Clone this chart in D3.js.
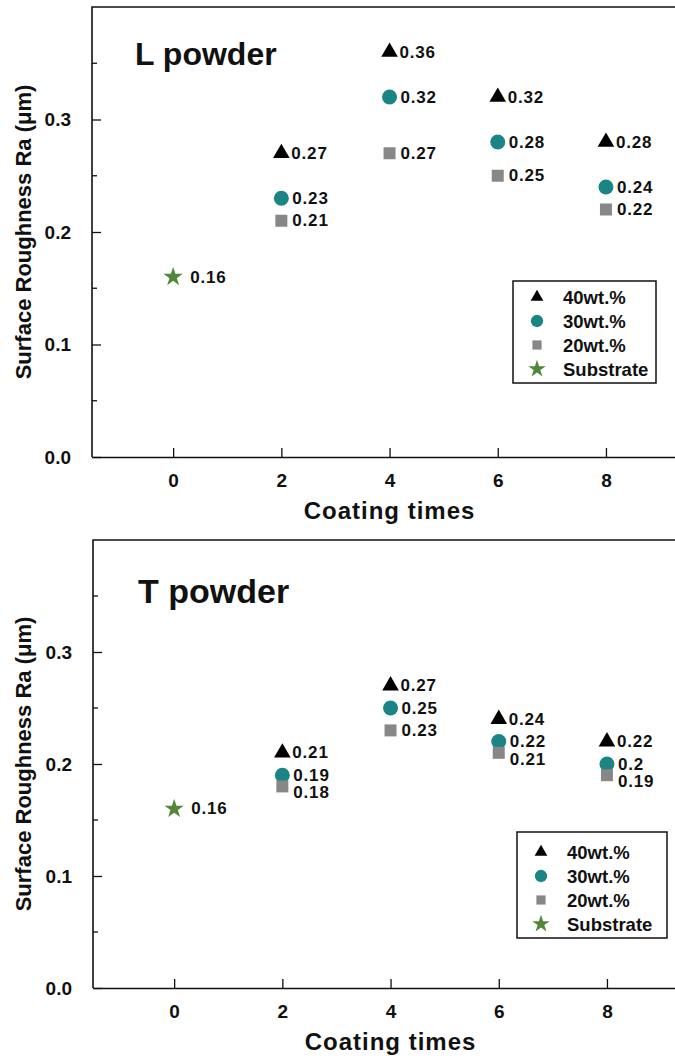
<!DOCTYPE html>
<html>
<head>
<meta charset="utf-8">
<script src="https://cdn.jsdelivr.net/npm/d3@7"></script>
<style>
  body { margin: 0; background: #fff; }
  svg { display: block; font-family: "Liberation Sans", Arial, sans-serif; font-weight: bold; }
</style>
</head>
<body>
<svg id="chart" width="675" height="1061"></svg>
<script>
// data
const coatingTimes = [2, 4, 6, 8];
const substrateTimes = [0];
const xTicks = [0, 2, 4, 6, 8];
const yTicks = [0, 0.1, 0.2, 0.3];
const yMinorTicks = [0.05, 0.15, 0.25, 0.35];

const L_40 = [0.27, 0.36, 0.32, 0.28];
const L_30 = [0.23, 0.32, 0.28, 0.24];
const L_20 = [0.21, 0.27, 0.25, 0.22];
const L_sub = [0.16];

const T_40 = [0.21, 0.27, 0.24, 0.22];
const T_30 = [0.19, 0.25, 0.22, 0.20];
const T_20 = [0.18, 0.23, 0.21, 0.19];
const T_sub = [0.16];

const legendNames = ["40wt.%", "30wt.%", "20wt.%", "Substrate"];

// marker styles
const styles = [
  {type: d3.symbolTriangle, size: 120, legSize: 70, color: "#000", dx: 10},
  {type: d3.symbolCircle, size: 177, legSize: 120, color: "#1b8585", dx: 11},
  {type: d3.symbolSquare, size: 144, legSize: 85, color: "#878787", dx: 11},
  {type: d3.symbolStar, size: 115, legSize: 95, color: "#52873a", dx: 17}
];

const panels = [
  {title: "L powder", titleX: 135, titleY: 65, titleSize: 32,
   left: 92, top: 7, bottom: 457,
   series: [L_40, L_30, L_20, L_sub],
   legend: {x: 513, y: 281, w: 143, h: 102, first: 16}},
  {title: "T powder", titleX: 138, titleY: 603, titleSize: 34,
   left: 93, top: 540, bottom: 988,
   series: [T_40, T_30, T_20, T_sub],
   legend: {x: 517, y: 832, w: 150, h: 106, first: 20}}
];

const svg = d3.select("#chart");

panels.forEach(p => {
  const x = d3.scaleLinear().domain([-1.5, 9.5]).range([p.left, p.left + 11 * 54.1]);
  const y = d3.scaleLinear().domain([0, 0.4]).range([p.bottom, p.top]);
  const g = svg.append("g");

  // frame: top and left border
  g.append("path")
    .attr("d", `M${x.range()[1]},${p.top}H${p.left}V${p.bottom}`)
    .attr("fill", "none").attr("stroke", "#111").attr("stroke-width", 1.6);

  // x axis
  const xAxis = d3.axisBottom(x).tickValues(xTicks).tickSizeInner(-9).tickSizeOuter(0).tickPadding(17);
  const gx = g.append("g").attr("transform", `translate(0,${p.bottom})`).call(xAxis);
  gx.select(".domain").attr("stroke", "#111").attr("stroke-width", 1.6);
  gx.selectAll(".tick line").attr("stroke", "#111").attr("stroke-width", 1.3);
  gx.selectAll(".tick text").attr("font-size", 19).attr("font-family", null).attr("fill", "#111");

  // y axis
  const yAxis = d3.axisLeft(y).tickValues(yTicks).tickFormat(d3.format(".1f"))
    .tickSizeInner(-9).tickSizeOuter(0).tickPadding(21);
  const gy = g.append("g").attr("transform", `translate(${p.left},0)`).call(yAxis);
  gy.select(".domain").remove();
  gy.selectAll(".tick line").attr("stroke", "#111").attr("stroke-width", 1.3);
  gy.selectAll(".tick text").attr("font-size", 19).attr("font-family", null).attr("fill", "#111");

  g.selectAll(".minor").data(yMinorTicks).enter().append("line")
    .attr("x1", p.left).attr("x2", p.left + 5)
    .attr("y1", d => y(d)).attr("y2", d => y(d))
    .attr("stroke", "#111").attr("stroke-width", 1.3);

  // axis titles
  g.append("text").text("Coating times")
    .attr("x", x(4)).attr("y", p.bottom + 62)
    .attr("text-anchor", "middle").attr("font-size", 24).attr("letter-spacing", 1)
    .attr("fill", "#111");
  g.append("text").text("Surface Roughness Ra (μm)")
    .attr("transform", `translate(23,${(p.top + p.bottom) / 2}) rotate(-90)`)
    .attr("text-anchor", "middle").attr("dominant-baseline", "central")
    .attr("font-size", 22).attr("fill", "#111");

  // panel title
  g.append("text").text(p.title)
    .attr("x", p.titleX).attr("y", p.titleY)
    .attr("font-size", p.titleSize).attr("fill", "#111");

  // points
  const labels = [];
  p.series.forEach((vals, i) => {
    const st = styles[i];
    const xs = i === 3 ? substrateTimes : coatingTimes;
    const pts = vals.map((v, j) => ({x: xs[j], v: v}));
    g.selectAll(null).data(pts).enter().append("path")
      .attr("d", d3.symbol().type(st.type).size(st.size))
      .attr("transform", d => `translate(${x(d.x)},${y(d.v)})`)
      .attr("fill", st.color);
    pts.forEach(d => labels.push({x: d.x, v: d.v, lx: x(d.x) + st.dx, ly: y(d.v)}));
  });

  // push overlapping value labels apart within each column
  d3.groups(labels, d => d.x).forEach(([k, arr]) => {
    arr.sort((a, b) => a.ly - b.ly);
    for (let i = 1; i < arr.length; i++) {
      if (arr[i].ly - arr[i - 1].ly < 17.5) arr[i].ly = arr[i - 1].ly + 17.5;
    }
  });

  g.selectAll(null).data(labels).enter().append("text")
    .text(d => String(d.v))
    .attr("x", d => d.lx).attr("y", d => d.ly)
    .attr("dominant-baseline", "central")
    .attr("font-size", 17).attr("letter-spacing", 0.8).attr("fill", "#111");

  // legend
  const L = p.legend;
  g.append("rect")
    .attr("x", L.x).attr("y", L.y).attr("width", L.w).attr("height", L.h)
    .attr("fill", "#fff").attr("stroke", "#111").attr("stroke-width", 1.5);
  legendNames.forEach((name, i) => {
    const st = styles[i];
    const ry = L.y + L.first + i * 24;
    g.append("path")
      .attr("d", d3.symbol().type(st.type).size(st.legSize))
      .attr("transform", `translate(${L.x + 24},${ry})`)
      .attr("fill", st.color);
    g.append("text").text(name)
      .attr("x", L.x + 50).attr("y", ry)
      .attr("dominant-baseline", "central")
      .attr("font-size", 18.5).attr("fill", "#111");
  });
});
</script>
</body>
</html>
